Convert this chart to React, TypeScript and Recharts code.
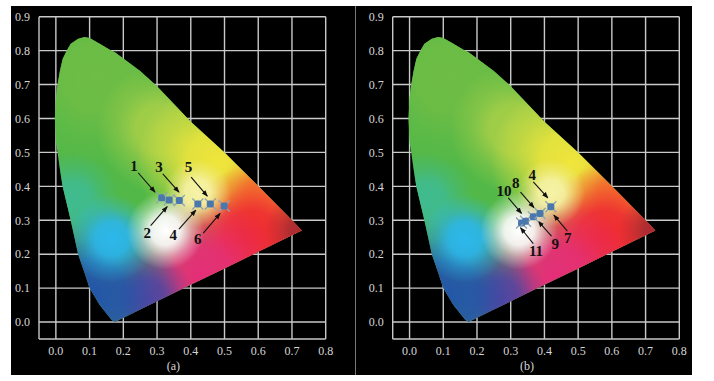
import { ComposedChart, Area, Scatter, XAxis, YAxis, CartesianGrid, ReferenceLine, ReferenceDot } from 'recharts';

// chromaticity outline: x, lower edge, upper edge
const gamutX = [-0.003, 0, 0.005, 0.012, 0.02, 0.032, 0.044, 0.066, 0.085, 0.1, 0.13, 0.165, 0.175, 0.25, 0.3, 0.4, 0.5, 0.6, 0.7, 0.729];
const gamutLow = [0.6, 0.53, 0.5, 0.45, 0.4, 0.35, 0.3, 0.2, 0.145, 0.1, 0.05, 0.007, 0, 0.037, 0.061, 0.11, 0.158, 0.207, 0.256, 0.27];
const gamutHigh = [0.6, 0.66, 0.7, 0.74, 0.775, 0.8, 0.82, 0.835, 0.84, 0.837, 0.82, 0.8, 0.795, 0.74, 0.695, 0.59, 0.5, 0.4, 0.3, 0.27];
const gamut = gamutX.map((x, i) => ({ x, range: [gamutLow[i], gamutHigh[i]] }));

const xTicks = [0, 0.1, 0.2, 0.3, 0.4, 0.5, 0.6, 0.7, 0.8];
const yTicks = [0, 0.1, 0.2, 0.3, 0.4, 0.5, 0.6, 0.7, 0.8, 0.9];

const pointsAX = [0.314, 0.336, 0.366, 0.421, 0.458, 0.499];
const pointsAY = [0.366, 0.36, 0.358, 0.348, 0.348, 0.342];
const pointsBX = [0.332, 0.344, 0.367, 0.387, 0.419];
const pointsBY = [0.292, 0.297, 0.31, 0.32, 0.34];

// annotation arrows: [x1, y1, x2, y2]
const arrowsA = [
  [0.244, 0.44, 0.294, 0.383],
  [0.317, 0.437, 0.365, 0.383],
  [0.401, 0.427, 0.449, 0.371],
  [0.281, 0.284, 0.33, 0.34],
  [0.365, 0.274, 0.415, 0.33],
  [0.437, 0.262, 0.487, 0.32],
];
const arrowsB = [
  [0.367, 0.413, 0.41, 0.366],
  [0.329, 0.383, 0.369, 0.337],
  [0.293, 0.366, 0.332, 0.32],
  [0.468, 0.268, 0.428, 0.315],
  [0.421, 0.253, 0.382, 0.297],
  [0.367, 0.231, 0.329, 0.278],
];
const labelsA = ['1', '3', '5', '2', '4', '6'];
const labelsAX = [0.232, 0.306, 0.393, 0.271, 0.348, 0.421];
const labelsAY = [0.462, 0.459, 0.459, 0.264, 0.257, 0.246];
const labelsB = ['4', '8', '10', '7', '9', '11'];
const labelsBX = [0.364, 0.315, 0.28, 0.469, 0.432, 0.375];
const labelsBY = [0.433, 0.411, 0.386, 0.25, 0.231, 0.209];

// colour patches inside the gamut: [x, y, radius, colour]
const patches: [number, number, number, string][] = [
  [0.12, 0.72, 0.26, '#6ebd45'],
  [0.31, 0.57, 0.19, '#a6cf48'],
  [0.62, 0.3, 0.3, '#ee5a30'],
  [0.48, 0.47, 0.24, '#f0e63c'],
  [0.61, 0.37, 0.13, '#f4892a'],
  [0.58, 0.25, 0.21, '#ee2a32'],
  [0.74, 0.27, 0.12, '#a82a32'],
  [0.43, 0.13, 0.24, '#e62d78'],
  [0.27, 0.07, 0.14, '#6a3c9c'],
  [0.11, 0.08, 0.26, '#2355a9'],
  [0.05, 0.36, 0.14, '#3fbb90'],
  [0.165, 0.245, 0.13, '#2cb8ec'],
  [0.42, 0.38, 0.1, '#f6f3a8'],
  [0.325, 0.27, 0.115, '#ffffff'],
];

const FONT = '"Liberation Serif", serif';
const GRID = '#c9c9c9';

const marker = (props: any) => {
  const { cx, cy } = props;
  return (
    <g>
      <path d={`M${cx - 5.5} ${cy - 5.5}L${cx + 5.5} ${cy + 5.5}M${cx + 5.5} ${cy - 5.5}L${cx - 5.5} ${cy + 5.5}`} stroke="#8fa4b0" strokeWidth={1.3} />
      <rect x={cx - 3.5} y={cy - 3.5} width={7} height={7} rx={2} fill="#4a78ad" />
    </g>
  );
};

type PanelProps = {
  id: string;
  left: number;
  width: number;
  marginLeft: number;
  marginRight: number;
  caption: string;
  pointsX: number[];
  pointsY: number[];
  arrows: number[][];
  labels: string[];
  labelsX: number[];
  labelsY: number[];
};

function Panel({ id, left, width, marginLeft, marginRight, caption, pointsX, pointsY, arrows, labels, labelsX, labelsY }: PanelProps) {
  const points = pointsX.map((x, i) => ({ x, y: pointsY[i] }));
  return (
    <div style={{ position: 'absolute', left, top: 6 }}>
      <ComposedChart width={width} height={369} data={gamut} margin={{ top: 10.7, right: marginRight, left: 0, bottom: 0 }}>
        <defs>
          <marker id={`${id}-arrow`} viewBox="0 0 8 6" refX="7" refY="3" markerWidth="6" markerHeight="5" orient="auto">
            <path d="M0 0L8 3L0 6z" fill="#111" />
          </marker>
          {patches.map((p, i) => (
            <radialGradient
              key={i}
              id={`${id}-patch-${i}`}
              cx={(p[0] + 0.003) / 0.732}
              cy={(0.84 - p[1]) / 0.84}
              r={p[2] / 0.732}
              gradientTransform={`translate(0 ${(0.84 - p[1]) / 0.84}) scale(1 ${0.732 / 0.84}) translate(0 ${-(0.84 - p[1]) / 0.84})`}
            >
              <stop offset="0%" stopColor={p[3]} stopOpacity={1} />
              <stop offset="38%" stopColor={p[3]} stopOpacity={0.88} />
              <stop offset="68%" stopColor={p[3]} stopOpacity={0.38} />
              <stop offset="100%" stopColor={p[3]} stopOpacity={0} />
            </radialGradient>
          ))}
        </defs>
        <CartesianGrid
          stroke={GRID}
          strokeWidth={1.4}
          horizontalValues={[-0.05, ...yTicks]}
          verticalValues={[-0.05, ...xTicks]}
        />
        <XAxis
          type="number"
          dataKey="x"
          domain={[-0.05, 0.8]}
          ticks={xTicks}
          interval={0}
          height={36}
          axisLine={false}
          tickLine={false}
          tickMargin={1}
          tick={{ fontSize: 12, fontFamily: FONT, fill: '#d6d6d6' }}
          tickFormatter={(v: number) => v.toFixed(1)}
          label={{ value: caption, position: 'insideBottom', offset: 5, dx: -9, fontSize: 12, fontFamily: FONT, fill: '#d6d6d6' }}
        />
        <YAxis
          type="number"
          domain={[-0.05, 0.9]}
          ticks={yTicks}
          interval={0}
          width={marginLeft}
          axisLine={false}
          tickLine={false}
          tickMargin={3}
          tick={{ fontSize: 12, fontFamily: FONT, fill: '#d6d6d6' }}
          tickFormatter={(v: number) => v.toFixed(1)}
        />
        <Area dataKey="range" type="linear" stroke="none" fill="#52b848" fillOpacity={1} isAnimationActive={false} dot={false} activeDot={false} />
        {patches.map((_, i) => (
          <Area key={i} dataKey="range" type="linear" stroke="none" fill={`url(#${id}-patch-${i})`} fillOpacity={1} isAnimationActive={false} dot={false} activeDot={false} />
        ))}
        {arrows.map((a, i) => (
          <ReferenceLine
            key={i}
            segment={[{ x: a[0], y: a[1] }, { x: a[2], y: a[3] }]}
            stroke="#111"
            strokeWidth={1.1}
            markerEnd={`url(#${id}-arrow)`}
          />
        ))}
        <Scatter data={points} dataKey="y" shape={marker} isAnimationActive={false} />
        {labels.map((t, i) => (
          <ReferenceDot
            key={i}
            x={labelsX[i]}
            y={labelsY[i]}
            r={0}
            stroke="none"
            label={{ value: t, position: 'center', fontSize: 15, fontWeight: 700, fontFamily: FONT, fill: '#111' }}
          />
        ))}
      </ComposedChart>
    </div>
  );
}

export default function App() {
  return (
    <div style={{ position: 'absolute', left: 0, top: 0, width: 714, height: 381, background: '#fff', overflow: 'hidden' }}>
      <div style={{ position: 'absolute', left: 11, top: 6, width: 681, height: 369, background: '#000' }} />
      <div style={{ position: 'absolute', left: 355, top: 6, width: 1, height: 369, background: '#777' }} />
      <Panel id="a" left={11} width={344} marginLeft={28} marginRight={29.3} caption="(a)" pointsX={pointsAX} pointsY={pointsAY} arrows={arrowsA} labels={labelsA} labelsX={labelsAX} labelsY={labelsAY} />
      <Panel id="b" left={357} width={335} marginLeft={35.7} marginRight={12.7} caption="(b)" pointsX={pointsBX} pointsY={pointsBY} arrows={arrowsB} labels={labelsB} labelsX={labelsBX} labelsY={labelsBY} />
    </div>
  );
}
